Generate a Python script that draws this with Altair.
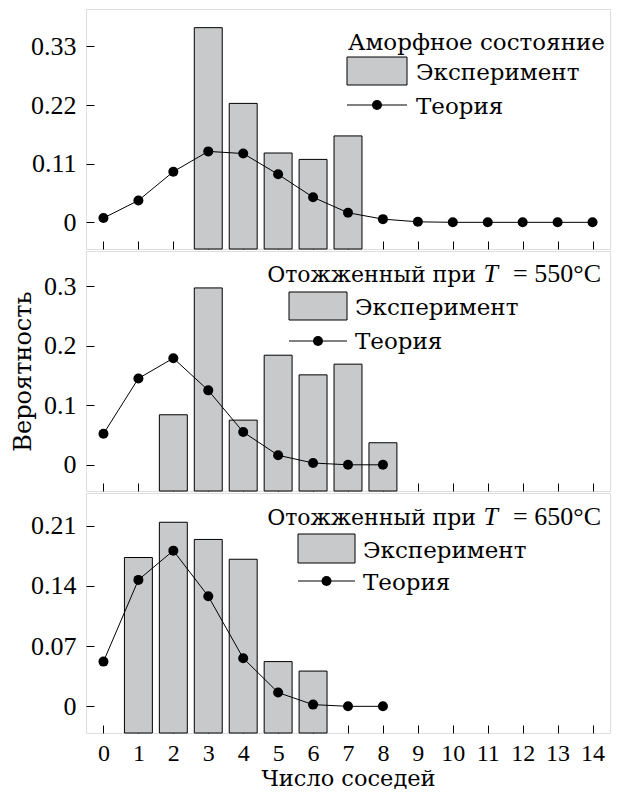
import altair as alt
import pandas as pd

CYR = "DejaVu Serif"        # serif face with Cyrillic glyphs
NUM = "Liberation Serif"    # Times-like face for numbers and Latin
X_TICKS = list(range(15))
X_LABEL = "Число соседей"
Y_LABEL = "Вероятность"
EXP_LABEL = "Эксперимент"
TH_LABEL = "Теория"

# Panel 1: amorphous state
exp1_n = [3, 4, 5, 6, 7]
exp1_p = [0.365, 0.223, 0.130, 0.118, 0.162]
th1_n = list(range(15))
th1_p = [0.008, 0.041, 0.095, 0.133, 0.129, 0.090, 0.047, 0.018, 0.006, 0.001, 0.0, 0.0, 0.0, 0.0, 0.0]
y1_ticks = [0, 0.11, 0.22, 0.33]
y1_dom = [-0.05, 0.4]

# Panel 2: annealed at 550 C
exp2_n = [2, 3, 4, 5, 6, 7, 8]
exp2_p = [0.084, 0.297, 0.075, 0.184, 0.151, 0.169, 0.037]
th2_n = list(range(9))
th2_p = [0.052, 0.145, 0.179, 0.125, 0.055, 0.016, 0.003, 0.0, 0.0]
y2_ticks = [0, 0.1, 0.2, 0.3]
y2_dom = [-0.044, 0.359]

# Panel 3: annealed at 650 C
exp3_n = [1, 2, 3, 4, 5, 6]
exp3_p = [0.173, 0.214, 0.194, 0.171, 0.052, 0.041]
th3_n = list(range(9))
th3_p = [0.052, 0.147, 0.181, 0.128, 0.056, 0.016, 0.002, 0.0, 0.0]
y3_ticks = [0, 0.07, 0.14, 0.21]
y3_dom = [-0.031, 0.248]

W, H = 524, 240
BAR_FILL = "#c8c9cb"
ONE = pd.DataFrame({"a": [0]})


def txt(s, x, y, font=CYR, size=23, align="left", style="normal"):
    return alt.Chart(ONE).mark_text(
        font=font, fontSize=size, align=align, baseline="alphabetic",
        fontStyle=style, color="black"
    ).encode(x=alt.value(x), y=alt.value(y), text=alt.value(s))


def legend(title_layers, rx0, rx1, ry0, ry1, ly, tx, ty_exp, ty_th):
    layers = list(title_layers)
    layers.append(alt.Chart(ONE).mark_rect(fill=BAR_FILL, stroke="black", strokeWidth=1).encode(
        x=alt.value(rx0), x2=alt.value(rx1), y=alt.value(ry0), y2=alt.value(ry1)))
    layers.append(txt(EXP_LABEL, tx, ty_exp))
    layers.append(alt.Chart(ONE).mark_rule(color="black", strokeWidth=1).encode(
        x=alt.value(rx0), x2=alt.value(rx1), y=alt.value(ly)))
    layers.append(alt.Chart(ONE).mark_circle(size=100, color="black", opacity=1).encode(
        x=alt.value((rx0 + rx1) / 2), y=alt.value(ly)))
    layers.append(txt(TH_LABEL, tx, ty_th))
    return layers


def anneal_title(temp, y):
    return [
        txt("Отожженный при", 390, y, size=22, align="right"),
        txt("T", 412, y, font=NUM, size=26, align="right", style="italic"),
        txt("= " + temp + "°C", 515, y, font=NUM, size=26, align="right"),
    ]


def panel(exp_n, exp_p, th_n, th_p, yticks, ydom, leg_layers, bottom, y_title):
    exp_df = pd.DataFrame({"n": exp_n, "p": exp_p})
    th_df = pd.DataFrame({"n": th_n, "p": th_p})
    xscale = alt.Scale(domain=[-0.5, 14.5], nice=False, zero=False)
    yscale = alt.Scale(domain=ydom, nice=False, zero=False)
    xax = dict(values=X_TICKS, domain=False, ticks=True, tickSize=8, tickColor="black",
               tickWidth=1, offset=-8, grid=False, labels=bottom, labelFont=NUM,
               labelFontSize=24, labelColor="black", labelPadding=8, labelFlush=False,
               labelOverlap=False)
    if bottom:
        xax.update(title=X_LABEL, titleFont=CYR, titleFontSize=22.5, titleFontWeight="normal",
                   titleColor="black", titlePadding=2)
    else:
        xax.update(title=None)
    yax = dict(values=yticks, format=".2~f", domain=False, ticks=True, tickSize=8,
               tickColor="black", tickWidth=1, offset=-8, grid=False, labelFont=NUM,
               labelFontSize=26, labelColor="black", labelPadding=10, labelFlush=False,
               labelOverlap=False)
    if y_title:
        yax.update(title=Y_LABEL, titleFont=CYR, titleFontSize=24, titleFontWeight="normal",
                   titleColor="black", titlePadding=8)
    else:
        yax.update(title=None)
    X_AX = alt.Axis(**xax)
    Y_AX = alt.Axis(**yax)

    bars = alt.Chart(exp_df).transform_calculate(
        lo="datum.n - 0.4", hi="datum.n + 0.4"
    ).mark_bar(fill=BAR_FILL, stroke="black", strokeWidth=1).encode(
        x=alt.X("lo:Q", scale=xscale, axis=X_AX),
        x2="hi:Q",
        y=alt.Y("p:Q", scale=yscale, axis=Y_AX),
        y2=alt.datum(ydom[0]),
    )
    line = alt.Chart(th_df).mark_line(color="black", strokeWidth=1).encode(
        x=alt.X("n:Q", scale=xscale, axis=X_AX), y=alt.Y("p:Q", scale=yscale, axis=Y_AX))
    pts = alt.Chart(th_df).mark_circle(size=100, color="black", opacity=1).encode(
        x=alt.X("n:Q", scale=xscale, axis=X_AX), y=alt.Y("p:Q", scale=yscale, axis=Y_AX))
    return alt.layer(bars, line, pts, *leg_layers).properties(width=W, height=H)


leg1 = legend([txt("Аморфное состояние", 262, 41)],
              261, 321, 48, 76, 96, 330, 71, 105)
leg2 = legend(anneal_title("550", 31),
              203, 261, 41, 69, 90, 269, 64, 98)
leg3 = legend(anneal_title("650", 32),
              212, 269, 41, 70, 88, 277, 65, 97)

p1 = panel(exp1_n, exp1_p, th1_n, th1_p, y1_ticks, y1_dom, leg1, False, False)
p2 = panel(exp2_n, exp2_p, th2_n, th2_p, y2_ticks, y2_dom, leg2, False, True)
p3 = panel(exp3_n, exp3_p, th3_n, th3_p, y3_ticks, y3_dom, leg3, True, False)

chart = alt.vconcat(p1, p2, p3, spacing=0, padding={"left": 3, "top": 0, "right": 0, "bottom": 0}
                    ).configure_view(stroke="black", strokeWidth=1.2
                    ).configure(font=CYR, background="white")

chart.save("out.html", embed_options={"renderer": "svg", "actions": False})
